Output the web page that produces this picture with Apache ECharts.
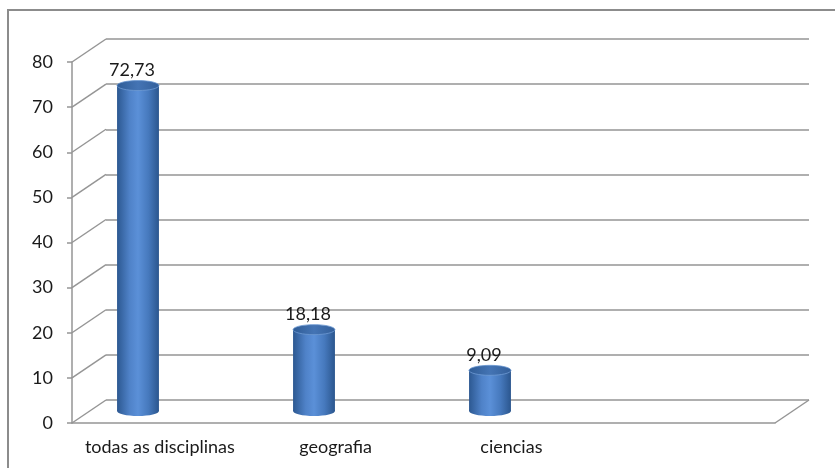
<!DOCTYPE html>
<html>
<head>
<meta charset="utf-8">
<script src="https://cdn.jsdelivr.net/npm/echarts@6/dist/echarts.min.js"></script>
<style>
  html, body { margin: 0; padding: 0; background: #fff; }
  #chart { width: 835px; height: 468px; }
</style>
</head>
<body>
<div id="chart"></div>
<script>
// Percentages per subject
const categories = ['todas as disciplinas', 'geografia', 'ciencias', ''];
const values = [72.73, 18.18, 9.09];
const yTicks = [0, 10, 20, 30, 40, 50, 60, 70, 80];

// Front plane, back wall and the mid-depth plane the cylinders stand on
const FRONT = { left: 72, right: 60, top: 62, bottom: 45 };
const BACK = { left: 106, right: 26, top: 39, bottom: 68 };
const BARS = { left: 50, right: 81, top: 53, bottom: 57 };
const DX = BACK.left - FRONT.left;
const DY = FRONT.bottom - BACK.bottom;

const GRID_COLOR = '#959595';
const TEXT_COLOR = '#1a1a1a';
const FONT = 'Lato, "Open Sans", sans-serif';
const FONT_SIZE = 18;

const fmt = v => v.toFixed(2).replace('.', ',');

const chart = echarts.init(document.getElementById('chart'), null, { renderer: 'canvas' });

const yMax = yTicks[yTicks.length - 1];
const yStep = yTicks[1] - yTicks[0];

chart.setOption({
  backgroundColor: '#fff',
  animation: false,
  graphic: [{
    type: 'rect', z: -10,
    shape: { x: 8, y: 10, width: 900, height: 520 },
    style: { fill: 'none', stroke: '#8c8c8c', lineWidth: 2 }
  }],
  grid: [
    Object.assign({}, FRONT),
    Object.assign({}, BACK),
    Object.assign({}, BARS)
  ],
  xAxis: [
    {
      gridIndex: 0, type: 'category', data: categories, boundaryGap: true,
      axisLine: { lineStyle: { color: GRID_COLOR, width: 1.5 } },
      axisTick: { length: 5, lineStyle: { color: GRID_COLOR, width: 1.5 } },
      axisLabel: { interval: 0, color: TEXT_COLOR, fontSize: FONT_SIZE, fontFamily: FONT, margin: 15 }
    },
    { gridIndex: 1, type: 'category', data: categories, show: false },
    { gridIndex: 2, type: 'category', data: categories, show: false }
  ],
  yAxis: [
    {
      gridIndex: 0, type: 'value', min: 0, max: yMax, interval: yStep,
      axisLine: { show: true, lineStyle: { color: GRID_COLOR, width: 1.5 } },
      axisTick: { show: true, length: 5, lineStyle: { color: GRID_COLOR, width: 1.5 } },
      axisLabel: { color: TEXT_COLOR, fontSize: FONT_SIZE, fontFamily: FONT, margin: 19 },
      splitLine: { show: false }
    },
    {
      gridIndex: 1, type: 'value', min: 0, max: yMax, interval: yStep,
      axisLine: { show: false }, axisTick: { show: false }, axisLabel: { show: false },
      splitLine: { show: true, lineStyle: { color: GRID_COLOR, width: 1.5 } }
    },
    { gridIndex: 2, type: 'value', min: 0, max: yMax, interval: yStep, show: false }
  ],
  series: [
    {
      // side-wall and floor diagonals joining front and back planes
      type: 'custom', xAxisIndex: 0, yAxisIndex: 0, clip: false, silent: true,
      data: yTicks.map(v => [0, v]),
      encode: { x: 0, y: 1 },
      renderItem(params, api) {
        const cs = params.coordSys;
        const y = api.coord([0, api.value(1)])[1];
        const style = { stroke: GRID_COLOR, lineWidth: 1.5 };
        const children = [{
          type: 'line',
          shape: { x1: cs.x, y1: y, x2: cs.x + DX, y2: y + DY },
          style
        }];
        if (api.value(1) === 0) {
          children.push({
            type: 'line',
            shape: { x1: cs.x + cs.width, y1: y, x2: cs.x + cs.width + DX, y2: y + DY },
            style
          });
        }
        return { type: 'group', children };
      }
    },
    {
      // cylinders with their value labels
      type: 'custom', xAxisIndex: 2, yAxisIndex: 2, clip: false,
      data: values.map((v, i) => [i, v]),
      encode: { x: 0, y: 1 },
      z: 5,
      renderItem(params, api) {
        const idx = api.value(0);
        const v = api.value(1);
        const top = api.coord([idx, v]);
        const base = api.coord([idx, 0]);
        const w = api.size([1, 0])[0] * 0.238;
        const rx = w / 2;
        const ry = 5;
        const cx = top[0];
        const body = new echarts.graphic.LinearGradient(0, 0, 1, 0, [
          { offset: 0, color: '#2c5891' },
          { offset: 0.3, color: '#4f82c8' },
          { offset: 0.5, color: '#5b90d8' },
          { offset: 0.75, color: '#4679bd' },
          { offset: 1, color: '#2b568e' }
        ]);
        const cap = new echarts.graphic.LinearGradient(0, 0, 1, 0, [
          { offset: 0, color: '#2f5c96' },
          { offset: 0.5, color: '#4474b4' },
          { offset: 1, color: '#335f9a' }
        ]);
        return {
          type: 'group',
          children: [
            { type: 'ellipse', shape: { cx, cy: base[1], rx, ry }, style: { fill: body } },
            { type: 'rect', shape: { x: cx - rx, y: top[1], width: w, height: base[1] - top[1] }, style: { fill: body } },
            { type: 'ellipse', shape: { cx, cy: top[1], rx, ry }, style: { fill: cap, stroke: '#6f9ad3', lineWidth: 0.8 } },
            {
              type: 'text',
              style: {
                text: fmt(v), x: cx - 6, y: top[1] - 6,
                align: 'center', verticalAlign: 'bottom',
                fill: TEXT_COLOR, fontSize: FONT_SIZE, fontFamily: FONT
              }
            }
          ]
        };
      }
    }
  ]
});
</script>
</body>
</html>
